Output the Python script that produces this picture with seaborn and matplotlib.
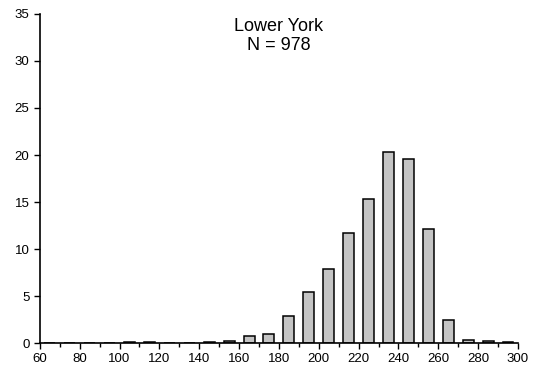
import matplotlib
matplotlib.use("Agg")
import matplotlib.pyplot as plt
import seaborn as sns
import pandas as pd
from matplotlib.ticker import MultipleLocator

bin_centers = [65, 75, 85, 95, 105, 115, 125, 135, 145, 155, 165, 175,
               185, 195, 205, 215, 225, 235, 245, 255, 265, 275, 285, 295]
percent = [0.02, 0.03, 0.05, 0.05, 0.08, 0.08, 0.05, 0.05, 0.12, 0.25, 0.75, 0.95,
           2.9, 5.4, 7.9, 11.7, 15.3, 20.3, 19.6, 12.1, 2.45, 0.3, 0.25, 0.1]
title_lines = ["Lower York", "N = 978"]
x_ticks = [60, 80, 100, 120, 140, 160, 180, 200, 220, 240, 260, 280, 300]
y_ticks = [0, 5, 10, 15, 20, 25, 30, 35]

sns.set_style("ticks")
plt.rcParams['font.family'] = ['Liberation Sans', 'DejaVu Sans']
plt.rcParams['text.color'] = 'black'

df = pd.DataFrame({"x": bin_centers, "y": percent})

fig = plt.figure(figsize=(5.39, 3.77), dpi=100)
ax = fig.add_axes([0.074, 0.090, 0.887, 0.873])
sns.barplot(data=df, x="x", y="y", native_scale=True, width=0.55,
            color="#c4c4c4", edgecolor="black", linewidth=1.1, saturation=1,
            ax=ax)

ax.set_xlim(60, 300)
ax.set_ylim(0, 35)
ax.set_xticks(x_ticks)
ax.set_yticks(y_ticks)
ax.xaxis.set_minor_locator(MultipleLocator(10))
ax.tick_params(axis="both", which="major", labelsize=9.5, length=4, width=1, color="black", labelcolor="black")
ax.tick_params(axis="x", which="minor", length=3, width=1, color="black")
ax.set_xlabel("")
ax.set_ylabel("")
for s in ["top", "right"]:
    ax.spines[s].set_visible(False)
for s in ["left", "bottom"]:
    ax.spines[s].set_linewidth(1.2)
    ax.spines[s].set_color("black")

ax.text(180, 33.7, title_lines[0], ha="center", va="center", fontsize=13, color="black")
ax.text(180, 31.6, title_lines[1], ha="center", va="center", fontsize=13, color="black")

fig.savefig("out.png", dpi=100)
